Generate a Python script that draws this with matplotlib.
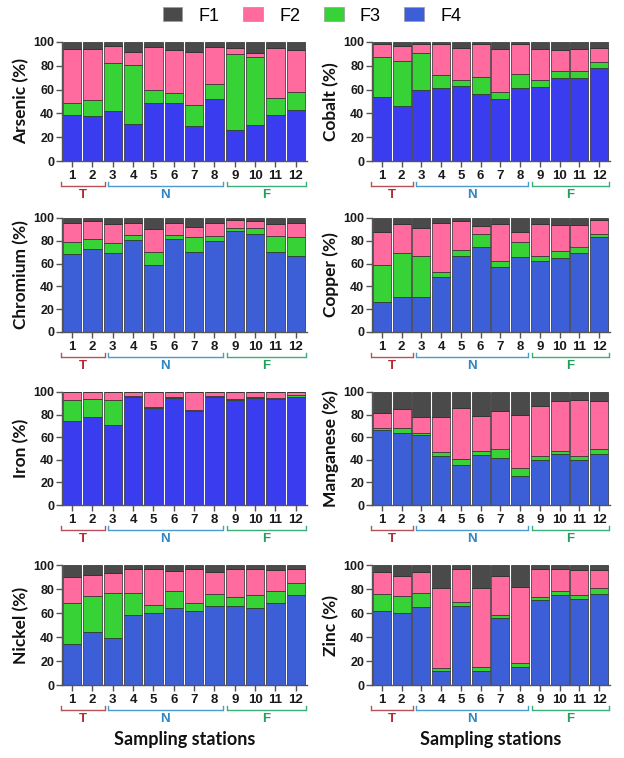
import matplotlib
matplotlib.use("Agg")
import matplotlib.pyplot as plt
import matplotlib.transforms as mtransforms
from matplotlib.patches import Patch
import numpy as np

stations = [str(i) for i in range(1, 13)]

# fractions (%) per station: F4 (bottom), F3, F2, F1 (top)
arsenic_F4 = [39, 38, 42, 31, 49, 49, 29, 52, 26, 30, 39, 43]
arsenic_F3 = [10, 13, 40, 50, 11, 8, 18, 13, 64, 57, 14, 15]
arsenic_F2 = [45, 43, 15, 11, 36, 36, 45, 31, 5, 4, 42, 35]
arsenic_F1 = [6, 6, 3, 8, 4, 7, 8, 4, 5, 9, 5, 7]

cobalt_F4 = [54, 46, 60, 61, 63, 56, 52, 61, 62, 70, 70, 78]
cobalt_F3 = [33, 38, 31, 11, 5, 15, 6, 12, 6, 6, 6, 5]
cobalt_F2 = [11, 13, 7, 26, 27, 27, 36, 25, 26, 17, 18, 12]
cobalt_F1 = [2, 3, 2, 2, 5, 2, 6, 2, 6, 7, 6, 5]

chromium_F4 = [68, 73, 69, 81, 59, 82, 70, 80, 89, 86, 70, 67]
chromium_F3 = [11, 9, 9, 4, 11, 3, 13, 4, 2, 5, 14, 16]
chromium_F2 = [17, 15, 17, 11, 20, 11, 9, 12, 7, 6, 11, 13]
chromium_F1 = [4, 3, 5, 4, 10, 4, 8, 4, 2, 3, 5, 4]

copper_F4 = [26, 31, 31, 48, 67, 75, 57, 66, 62, 65, 69, 83]
copper_F3 = [33, 38, 36, 5, 5, 11, 5, 13, 5, 6, 6, 3]
copper_F2 = [29, 26, 24, 43, 25, 7, 33, 9, 28, 23, 19, 12]
copper_F1 = [12, 5, 9, 4, 3, 7, 5, 12, 5, 6, 6, 2]

iron_F4 = [74, 78, 71, 96, 86, 95, 83, 96, 93, 95, 94, 96]
iron_F3 = [19, 16, 22, 0.5, 1, 1, 1, 0.5, 0.5, 1, 0.5, 1]
iron_F2 = [7, 6, 7, 3.5, 13, 4, 16, 3.5, 6.5, 4, 5.5, 3]
iron_F1 = [0, 0, 0, 0, 0, 0, 0, 0, 0, 0, 0, 0]

manganese_F4 = [66, 64, 62, 43, 35, 44, 42, 26, 40, 45, 40, 45]
manganese_F3 = [2, 4, 2, 4, 6, 4, 8, 7, 3, 3, 3, 5]
manganese_F2 = [13, 17, 14, 31, 45, 31, 33, 47, 45, 44, 50, 42]
manganese_F1 = [19, 15, 22, 22, 14, 21, 17, 20, 12, 8, 7, 8]

nickel_F4 = [34, 44, 39, 58, 60, 64, 62, 66, 66, 64, 68, 75]
nickel_F3 = [34, 30, 38, 19, 7, 14, 6, 10, 7, 11, 10, 10]
nickel_F2 = [22, 18, 16, 20, 30, 17, 29, 18, 24, 22, 18, 12]
nickel_F1 = [10, 8, 7, 3, 3, 5, 3, 6, 3, 3, 4, 3]

zinc_F4 = [62, 60, 65, 12, 66, 12, 56, 15, 71, 75, 72, 76]
zinc_F3 = [14, 14, 12, 2, 3, 3, 2, 3, 2, 3, 3, 5]
zinc_F2 = [18, 17, 17, 67, 28, 66, 33, 64, 24, 19, 21, 15]
zinc_F1 = [6, 9, 6, 19, 3, 19, 9, 18, 3, 3, 4, 4]

groups = ["T", "N", "F"]
group_spans = [(0.45, 2.6), (2.75, 8.4), (8.6, 12.5)]

panels = [
    ("Arsenic (%)", arsenic_F4, arsenic_F3, arsenic_F2, arsenic_F1),
    ("Cobalt (%)", cobalt_F4, cobalt_F3, cobalt_F2, cobalt_F1),
    ("Chromium (%)", chromium_F4, chromium_F3, chromium_F2, chromium_F1),
    ("Copper (%)", copper_F4, copper_F3, copper_F2, copper_F1),
    ("Iron (%)", iron_F4, iron_F3, iron_F2, iron_F1),
    ("Manganese (%)", manganese_F4, manganese_F3, manganese_F2, manganese_F1),
    ("Nickel (%)", nickel_F4, nickel_F3, nickel_F2, nickel_F1),
    ("Zinc (%)", zinc_F4, zinc_F3, zinc_F2, zinc_F1),
]

C_F1 = "#4a4a4a"
C_F2 = "#ff6b9e"
C_F3 = "#36d236"
blue_a = "#3a3cf0"
blue_b = "#3c5fd8"
panel_blue = [blue_a, blue_a, blue_b, blue_b, blue_a, blue_b, blue_b, blue_b]
group_text_colors = ["#b52a35", "#2f86c2", "#22a05a"]
group_line_colors = ["#b8505a", "#4a9bd0", "#3aae78"]

W, H = 624, 758
fig = plt.figure(figsize=(W / 100, H / 100), dpi=100)

cols = [(62, 307), (372, 610)]
rows = [(42, 161), (218, 332), (392, 505), (565, 685)]

tick_font = "Liberation Sans"
label_font = "Lato"

for idx, (name, f4, f3, f2, f1) in enumerate(panels):
    r, c = divmod(idx, 2)
    x0, x1 = cols[c]
    y0, y1 = rows[r]
    ax = fig.add_axes([x0 / W, 1 - y1 / H, (x1 - x0) / W, (y1 - y0) / H])
    x = np.arange(1, 13)
    f4 = np.array(f4, float); f3 = np.array(f3, float)
    f2 = np.array(f2, float); f1 = np.array(f1, float)
    kw = dict(width=0.9, edgecolor="#2a2a2a", linewidth=0.5)
    ax.bar(x, f4, color=panel_blue[idx], **kw)
    ax.bar(x, f3, bottom=f4, color=C_F3, **kw)
    ax.bar(x, f2, bottom=f4 + f3, color=C_F2, **kw)
    ax.bar(x, f1, bottom=f4 + f3 + f2, color=C_F1, **kw)
    ax.set_xlim(0.5, 12.55)
    ax.set_ylim(0, 100)
    ax.set_yticks([0, 20, 40, 60, 80, 100])
    ax.set_xticks(x)
    ax.set_xticklabels(stations)
    for s in ["top", "right"]:
        ax.spines[s].set_visible(False)
    for s in ["left", "bottom"]:
        ax.spines[s].set_color("#555555")
        ax.spines[s].set_linewidth(1.0)
    ax.tick_params(axis="both", colors="#555555", length=4, width=1.0)
    ax.tick_params(axis="y", pad=1.5)
    ax.tick_params(axis="x", pad=2.5)
    for lab in ax.get_yticklabels():
        lab.set_fontfamily(tick_font); lab.set_fontweight("bold")
        lab.set_fontsize(9); lab.set_color("#1a1a1a")
    for lab in ax.get_xticklabels():
        lab.set_fontfamily(tick_font); lab.set_fontweight("bold")
        lab.set_fontsize(9.5); lab.set_color("#1a1a1a")
    ax.set_ylabel(name, fontfamily=label_font, fontweight="bold",
                  fontsize=12.5, labelpad=3, color="#111111")

    base = mtransforms.blended_transform_factory(ax.transData, ax.transAxes)

    def off(px):
        return base + mtransforms.ScaledTranslation(0, -px / 100, fig.dpi_scale_trans)

    for g, (a, b), tc, lc in zip(groups, group_spans, group_text_colors, group_line_colors):
        line_t = off(25)
        ax.plot([a, b], [0, 0], transform=line_t, color=lc, lw=1.0,
                clip_on=False, solid_capstyle="butt")
        t_end = off(21)
        for xe in (a, b):
            p_top = t_end.transform((xe, 0))
            p_bot = line_t.transform((xe, 0))
            fig.add_artist(plt.Line2D([p_top[0] / W, p_bot[0] / W],
                                      [p_top[1] / H, p_bot[1] / H],
                                      transform=fig.transFigure, color=lc, lw=1.0))
        ax.text((a + b) / 2, 0, g, transform=off(34), ha="center", va="center",
                fontfamily=tick_font, fontweight="bold", fontsize=9.5, color=tc,
                clip_on=False)
    if r == 3:
        ax.text(0.5, 0, "Sampling stations", transform=ax.transAxes +
                mtransforms.ScaledTranslation(0, -54 / 100, fig.dpi_scale_trans),
                ha="center", va="center", fontfamily=label_font,
                fontweight="bold", fontsize=13, color="#111111")

handles = [Patch(facecolor=C_F1, edgecolor="#999999", lw=0.5),
           Patch(facecolor=C_F2, edgecolor="#999999", lw=0.5),
           Patch(facecolor=C_F3, edgecolor="#999999", lw=0.5),
           Patch(facecolor=blue_b, edgecolor="#999999", lw=0.5)]
fig.legend(handles, ["F1", "F2", "F3", "F4"], loc="center", ncol=4,
           bbox_to_anchor=(0.5, 1 - 16 / H), frameon=False,
           prop={"family": "Liberation Sans", "size": 13},
           handlelength=1.1, handleheight=0.8, columnspacing=1.3, handletextpad=0.9)

fig.savefig("out.png", dpi=100)
